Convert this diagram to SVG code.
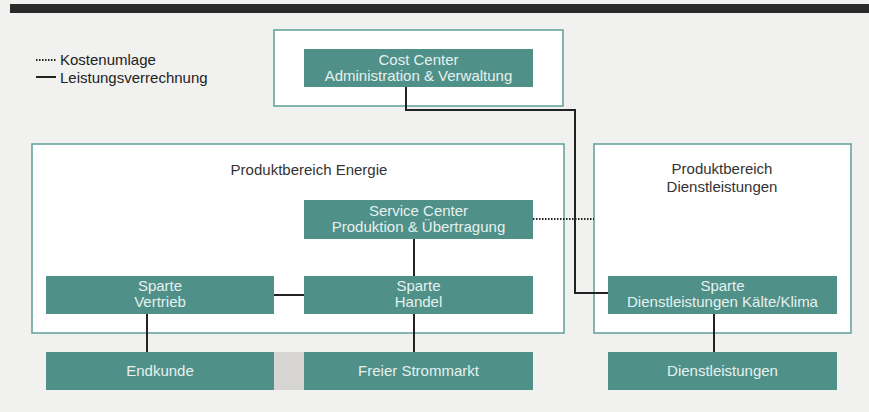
<svg xmlns="http://www.w3.org/2000/svg" width="869" height="412" viewBox="0 0 869 412">
<style>
.area{fill:#ffffff;stroke:#5e9f99;stroke-width:1.5}
.box{fill:#4f9189}
.bt{font-family:"Liberation Sans",Arial,sans-serif;font-size:15px;fill:#e6f0ee;text-anchor:middle}
.tt{font-family:"Liberation Sans",Arial,sans-serif;font-size:15px;fill:#333333;text-anchor:middle}
.lg{font-family:"Liberation Sans",Arial,sans-serif;font-size:15px;fill:#222222}
.ln{fill:none;stroke:#222222;stroke-width:2}
.dt{fill:none;stroke:#222222;stroke-width:2;stroke-dasharray:1.5 1.5}
</style>
<rect x="0" y="0" width="869" height="412" fill="#f1f1f0"/>
<rect x="10" y="4" width="859" height="9" fill="#2a2a2a"/>
<g id="legend">
<line class="dt" x1="36" y1="60" x2="57" y2="60"/>
<text class="lg" x="60" y="65">Kostenumlage</text>
<line class="ln" x1="36" y1="77" x2="56" y2="77"/>
<text class="lg" x="60" y="83">Leistungsverrechnung</text>
</g>
<g id="area-cost">
<rect class="area" x="274" y="30" width="289" height="76"/>
</g>
<g id="area-energie">
<rect class="area" x="32" y="144" width="532" height="189"/>
<text class="tt" x="309" y="175">Produktbereich Energie</text>
</g>
<g id="area-dienst">
<rect class="area" x="594" y="144" width="257" height="189"/>
<text class="tt" x="722" y="174">Produktbereich</text>
<text class="tt" x="722" y="192">Dienstleistungen</text>
</g>
<g id="gap">
<rect x="274" y="352" width="30" height="38" fill="#d6d5d4"/>
</g>
<g id="connectors">
<path class="ln" d="M406 87 V110 H575 V293 H608"/>
<line class="ln" x1="414" y1="239" x2="414" y2="276"/>
<line class="ln" x1="274" y1="295" x2="304" y2="295"/>
<line class="ln" x1="147" y1="314" x2="147" y2="352"/>
<line class="ln" x1="414" y1="314" x2="414" y2="352"/>
<line class="ln" x1="714" y1="314" x2="714" y2="352"/>
<line class="dt" x1="533" y1="219" x2="594" y2="219"/>
</g>
<g id="cost-center">
<rect class="box" x="304" y="49" width="229" height="38"/>
<text class="bt" x="418.5" y="65">Cost Center</text>
<text class="bt" x="418.5" y="81">Administration &amp; Verwaltung</text>
</g>
<g id="service-center">
<rect class="box" x="304" y="200" width="229" height="39"/>
<text class="bt" x="418.5" y="216">Service Center</text>
<text class="bt" x="418.5" y="232">Produktion &amp; Übertragung</text>
</g>
<g id="sparte-vertrieb">
<rect class="box" x="46" y="276" width="228" height="38"/>
<text class="bt" x="160" y="291">Sparte</text>
<text class="bt" x="160" y="307">Vertrieb</text>
</g>
<g id="sparte-handel">
<rect class="box" x="304" y="276" width="229" height="38"/>
<text class="bt" x="418.5" y="291">Sparte</text>
<text class="bt" x="418.5" y="307">Handel</text>
</g>
<g id="sparte-kaelte">
<rect class="box" x="608" y="276" width="229" height="38"/>
<text class="bt" x="722.5" y="291">Sparte</text>
<text class="bt" x="722.5" y="307">Dienstleistungen Kälte/Klima</text>
</g>
<g id="endkunde">
<rect class="box" x="46" y="352" width="228" height="38"/>
<text class="bt" x="160" y="376">Endkunde</text>
</g>
<g id="strommarkt">
<rect class="box" x="304" y="352" width="229" height="38"/>
<text class="bt" x="418.5" y="376">Freier Strommarkt</text>
</g>
<g id="dienstleistungen">
<rect class="box" x="608" y="352" width="229" height="38"/>
<text class="bt" x="722.5" y="376">Dienstleistungen</text>
</g>
</svg>
